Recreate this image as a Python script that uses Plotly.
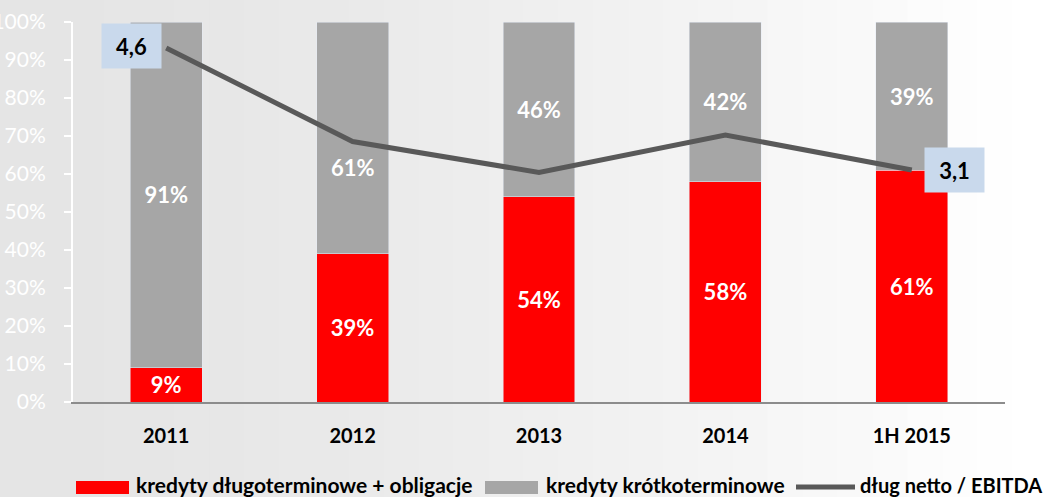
import plotly.graph_objects as go

categories = ["2011", "2012", "2013", "2014", "1H 2015"]
long_term = [9, 39, 54, 58, 61]
short_term = [91, 61, 46, 42, 39]
debt_ebitda = [4.6, 3.45, 3.07, 3.53, 3.1]
labelled_points = {0: "4,6", 4: "3,1"}
y_ticks = [0, 10, 20, 30, 40, 50, 60, 70, 80, 90, 100]
legend_names = ["kredyty długoterminowe + obligacje", "kredyty krótkoterminowe", "dług netto / EBITDA"]

RED = "#ff0000"
GRAY = "#a6a6a6"
LINE = "#595959"
FONT = "Lato"

# short-term label that is moved down below the line (index 1)
moved_label = 1

fig = go.Figure()
fig.add_trace(go.Bar(
    x=categories, y=long_term, name=legend_names[0], marker_color=RED,
    text=[f"<b>{v}%</b>" for v in long_term], textposition="inside", insidetextanchor="middle",
    textfont=dict(color="white", size=22, family=FONT),
    width=0.386, showlegend=False,
))
fig.add_trace(go.Bar(
    x=categories, y=short_term, name=legend_names[1], marker_color=GRAY,
    text=["" if i == moved_label else f"<b>{v}%</b>" for i, v in enumerate(short_term)],
    textposition="inside", insidetextanchor="middle",
    textfont=dict(color="white", size=22, family=FONT),
    width=0.386, showlegend=False,
))
fig.add_annotation(
    x=moved_label, y=long_term[moved_label] + short_term[moved_label] / 2, xref="x", yref="y",
    text=f"<b>{short_term[moved_label]}%</b>", showarrow=False, yshift=-30,
    font=dict(color="white", size=22, family=FONT),
)
fig.add_trace(go.Scatter(
    x=categories, y=debt_ebitda, name=legend_names[2], mode="lines",
    line=dict(color=LINE, width=5), yaxis="y2", showlegend=False,
))

shifts = {0: (-35, 2), 4: (43, 0)}
for i, txt in labelled_points.items():
    dx, dy = shifts[i]
    fig.add_annotation(
        x=i, y=debt_ebitda[i], xref="x", yref="y2", text=f"<b>{txt}</b>",
        showarrow=False, xshift=dx, yshift=dy, width=57, height=42,
        bgcolor="#c9d9ec", font=dict(size=22, color="black", family=FONT),
    )

# pixel -> paper helpers
def px(x):
    return (x - 73) / 932

def py(y):
    return (402 - y) / 380

# background: light grey fading to white on the right
n_bands = 30
for k in range(n_bands):
    x0 = k * 1047 / n_bands
    x1 = (k + 1) * 1047 / n_bands + 1
    t = ((x0 + x1) / 2) / 1000
    c = min(255, int(229 + 26 * t ** 1.5))
    fig.add_shape(type="rect", xref="paper", yref="paper", layer="below",
                  x0=px(x0), x1=px(x1), y0=py(497), y1=py(0),
                  fillcolor=f"rgb({c},{c},{c})", line_width=0)

# manual legend
fig.add_shape(type="rect", xref="paper", yref="paper", x0=px(76), x1=px(129), y0=py(494), y1=py(481),
              fillcolor=RED, line_width=0)
fig.add_shape(type="rect", xref="paper", yref="paper", x0=px(485), x1=px(538), y0=py(494), y1=py(481),
              fillcolor=GRAY, line_width=0)
fig.add_shape(type="line", xref="paper", yref="paper", x0=px(796), x1=px(855), y0=py(487), y1=py(487),
              line=dict(color=LINE, width=5))
for xpos, name, fs in zip([134, 544, 858], legend_names, [21, 21, 20]):
    fig.add_annotation(xref="paper", yref="paper", x=px(xpos), y=py(484.5), xanchor="left", yanchor="middle",
                       text=f"<b>{name}</b>", showarrow=False,
                       font=dict(size=fs, color="black", family=FONT))

fig.update_layout(
    width=1047, height=497, barmode="stack",
    margin=dict(l=73, r=42, t=22, b=95, autoexpand=False),
    paper_bgcolor="white", plot_bgcolor="rgba(0,0,0,0)",
    font=dict(family=FONT),
    xaxis=dict(type="category", range=[-0.5, 4.5], showgrid=False, showline=True, linecolor="#8c8c8c",
               linewidth=2, ticks="outside", ticklen=15, tickcolor="rgba(0,0,0,0)",
               tickfont=dict(size=20, color="black", family=FONT), automargin=False,
               tickvals=categories, ticktext=[f"<b>{c}</b>" for c in categories]),
    yaxis=dict(range=[0, 100], tickvals=y_ticks, ticktext=[f"{v}%" for v in y_ticks],
               showgrid=False, showline=True, linecolor="white", linewidth=2,
               ticks="outside", ticklen=7, tickcolor="white", tickwidth=2, automargin=False,
               ticklabelstandoff=14,
               tickfont=dict(size=21, color="white", family=FONT), zeroline=False),
    yaxis2=dict(range=[0.246, 4.92], overlaying="y", side="right", visible=False),
)

fig.write_html("out.html", post_script="document.body.style.margin='0px';",
               config={"displayModeBar": False})
